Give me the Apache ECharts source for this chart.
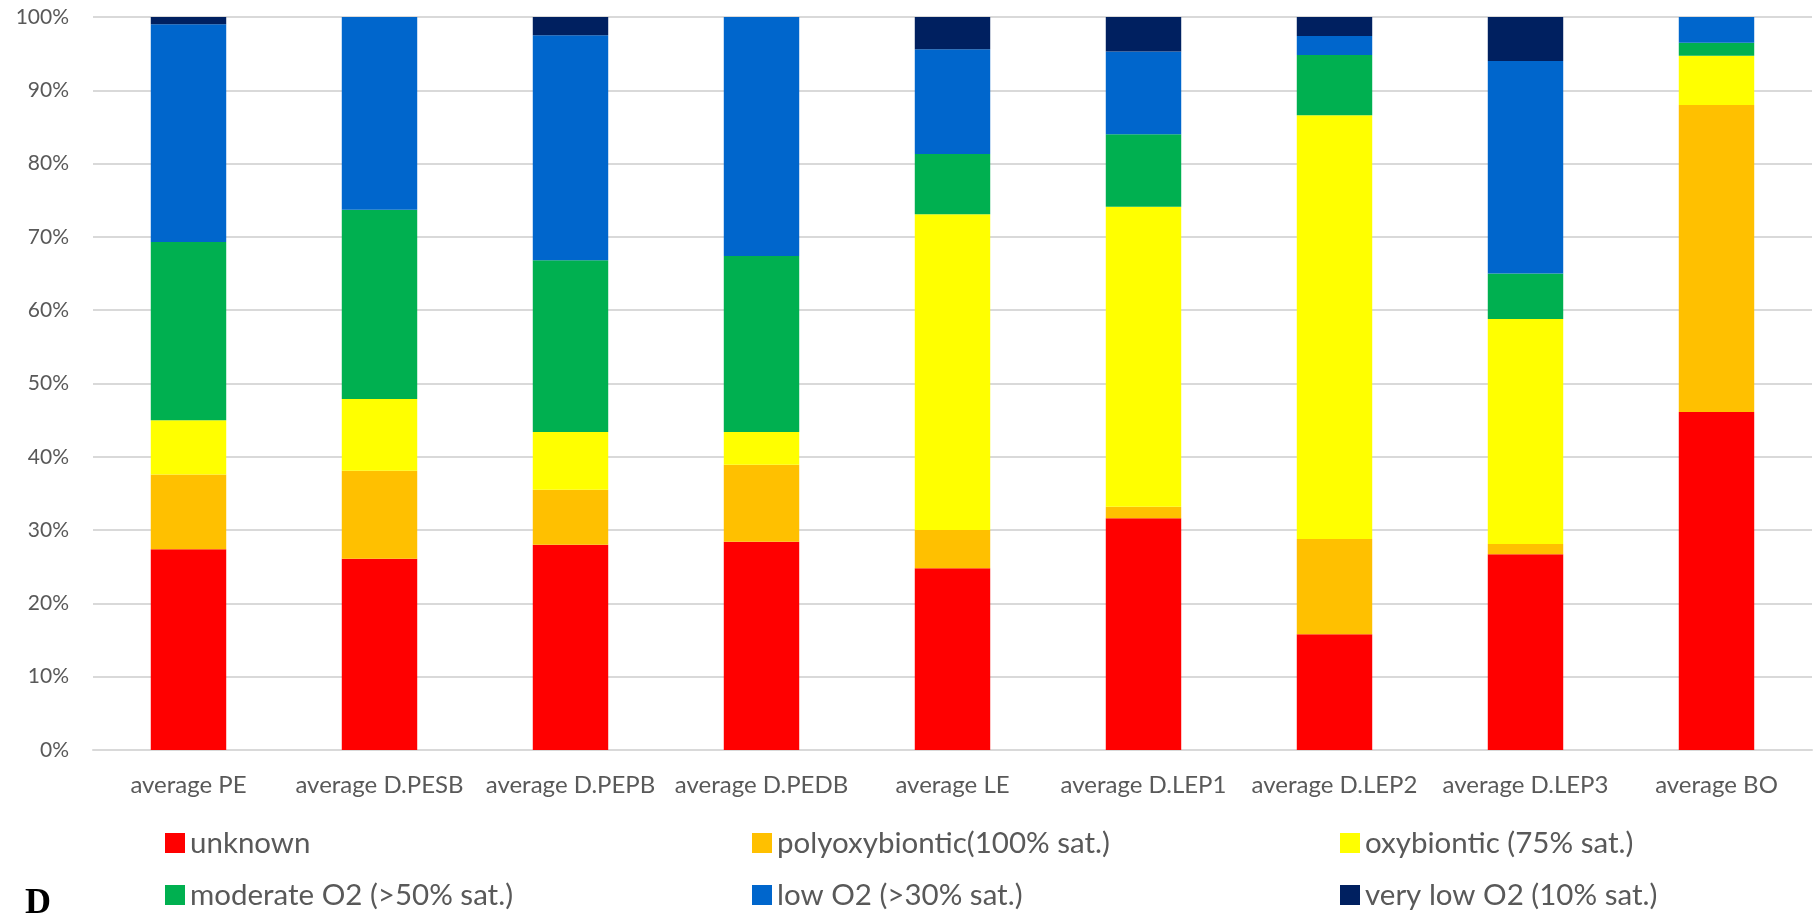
<!DOCTYPE html>
<html>
<head>
<meta charset="utf-8">
<script src="https://cdn.jsdelivr.net/npm/echarts@6/dist/echarts.min.js"></script>
<style>
html,body{margin:0;padding:0;background:#fff;}
#chart{width:1815px;height:922px;}
</style>
</head>
<body>
<div id="chart"></div>
<script>
const categories = ['average PE','average D.PESB','average D.PEPB','average D.PEDB','average LE','average D.LEP1','average D.LEP2','average D.LEP3','average BO'];
const seriesNames = ['unknown','polyoxybiontic(100% sat.)','oxybiontic (75% sat.)','moderate O2 (>50% sat.)','low O2 (>30% sat.)','very low O2 (10% sat.)'];
const unknown  = [27.4, 26.1, 28.0, 28.4, 24.8, 31.6, 15.8, 26.7, 46.1];
const polyoxy  = [10.2, 12.0, 7.5, 10.5, 5.2, 1.6, 13.0, 1.4, 41.9];
const oxy      = [7.4, 9.8, 7.9, 4.5, 43.1, 40.9, 57.8, 30.7, 6.7];
const moderate = [24.3, 25.8, 23.4, 24.0, 8.2, 9.9, 8.2, 6.2, 1.8];
const lowO2    = [29.7, 26.3, 30.7, 32.6, 14.3, 11.3, 2.6, 29.0, 3.5];
const veryLow  = [1.0, 0, 2.5, 0, 4.4, 4.7, 2.6, 6.0, 0];
const yTicks = [0,10,20,30,40,50,60,70,80,90,100];

const colors = ['#FF0000','#FFC000','#FFFF00','#00B050','#0066CC','#002060'];
const dataArr = [unknown, polyoxy, oxy, moderate, lowO2, veryLow];

const chart = echarts.init(document.getElementById('chart'));
const font = 'Lato, "Open Sans", sans-serif';
const legendPos = [[165,828],[752,828],[1340,828],[165,880],[752,880],[1340,880]];
const legendOrder = [0,1,2,3,4,5];
const legends = legendOrder.map((si, k) => ({
  left: legendPos[k][0], top: legendPos[k][1], orient: 'horizontal',
  data: [seriesNames[si]], itemWidth: 20, itemHeight: 20, icon: 'rect',
  textStyle: {fontFamily: font, fontSize: 29.5, color: '#595959'},
  selectedMode: false, padding: 0
}));
chart.setOption({
  animation: false,
  color: colors,
  grid: {left: 93, right: 3, top: 17, bottom: 172, containLabel: false},
  legend: legends,
  xAxis: {
    type: 'category', data: categories,
    axisLine: {lineStyle: {color: '#d9d9d9', width: 2}},
    axisTick: {show: false},
    axisLabel: {interval: 0, fontFamily: font, fontSize: 24, color: '#595959', margin: 23}
  },
  yAxis: {
    type: 'value', min: yTicks[0], max: yTicks[yTicks.length-1], interval: 10,
    axisLine: {show: false}, axisTick: {show: false},
    splitLine: {lineStyle: {color: '#d9d9d9', width: 2}},
    axisLabel: {fontFamily: font, fontSize: 21, color: '#595959', margin: 24, formatter: v => v + '%'}
  },
  series: seriesNames.map((n, i) => ({
    name: n, type: 'bar', stack: 'total', data: dataArr[i],
    barWidth: '39.5%',
    itemStyle: {color: colors[i]}
  })),
  graphic: [{
    type: 'text', left: 25, top: 886,
    style: {text: 'D', font: 'bold 36px "Liberation Serif", "DejaVu Serif", serif', fill: '#000'}
  }]
});
</script>
</body>
</html>
